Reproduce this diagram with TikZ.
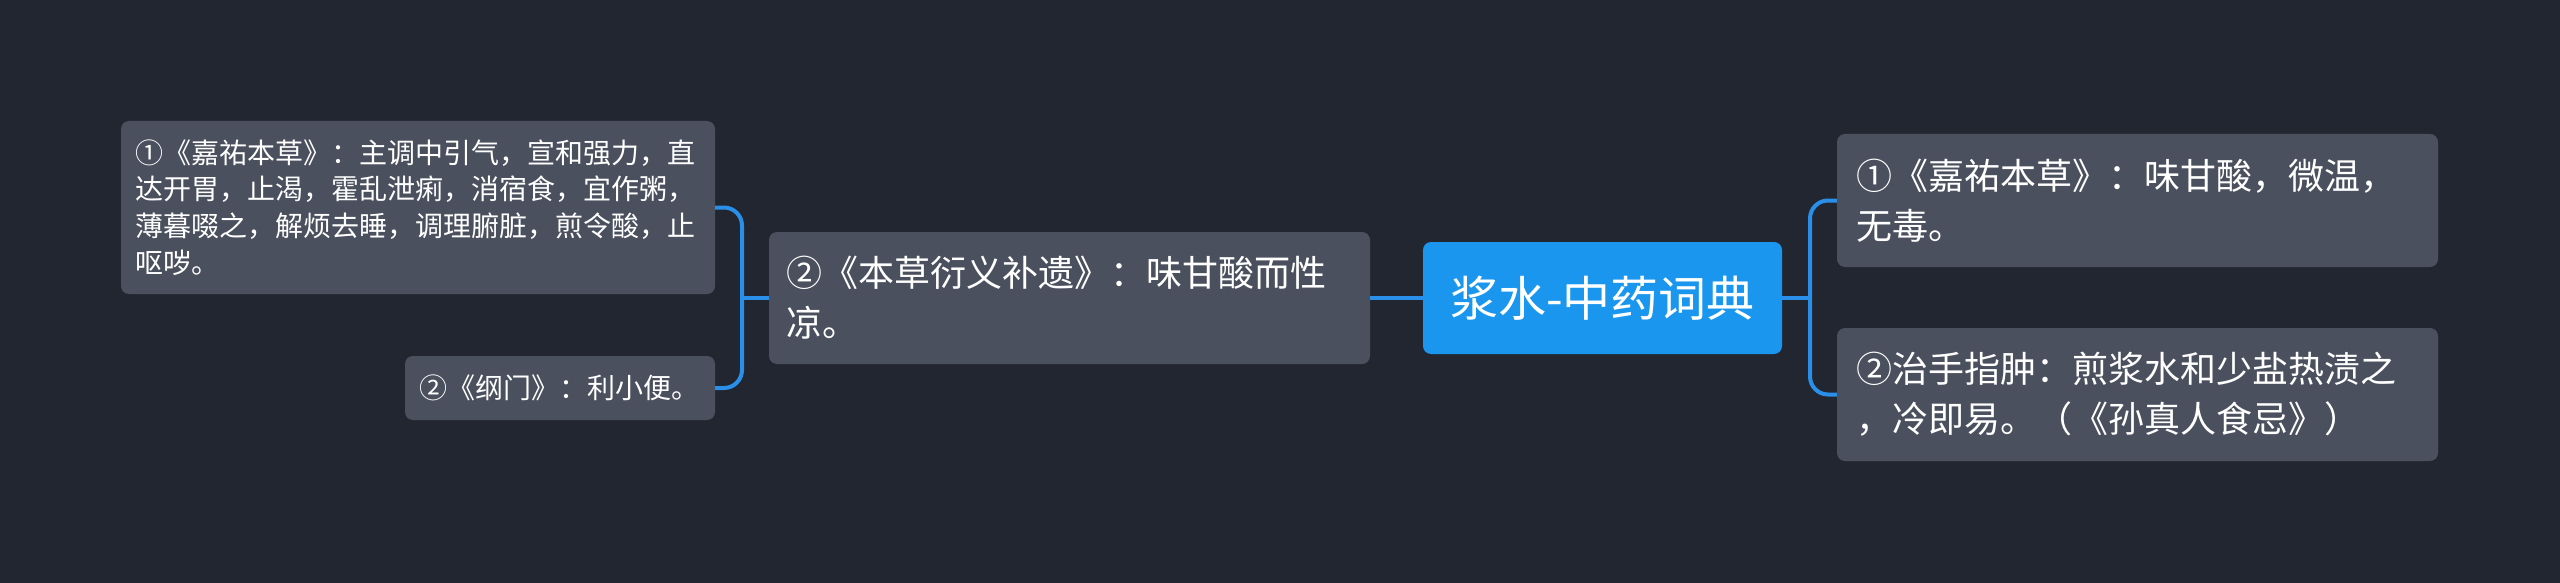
\documentclass[tikz,border=0pt]{standalone}
\usepackage{fontspec}
\setmainfont{Noto Sans CJK SC}
\definecolor{bg}{HTML}{222631}
\definecolor{boxfill}{HTML}{4B505E}
\definecolor{rootfill}{HTML}{1A96EF}
\definecolor{linec}{HTML}{2A8FE8}
\begin{document}
\begin{tikzpicture}[x=1pt,y=-1pt,
  leaf/.style={fill=boxfill, rounded corners=8pt, text=white, inner sep=0pt, align=left,
    font=\fontsize{28}{36.7}\selectfont},
  mid/.style={fill=boxfill, rounded corners=8pt, text=white, inner sep=0pt, align=left,
    font=\fontsize{36}{50}\selectfont},
  rootbox/.style={fill=rootfill, rounded corners=8pt, text=white, inner sep=0pt, align=center,
    font=\fontsize{48}{56}\selectfont},
  conn/.style={draw=linec, line width=4pt, rounded corners=18pt}]
\fill[bg] (0,0) rectangle (2560,583);
\useasboundingbox (0,0) rectangle (2560,583);

\node[rootbox, minimum width=359pt, minimum height=112pt] (root) at (1602.5,298) {浆水-中药词典};

\node[mid, minimum width=601pt, minimum height=132pt, text width=567pt] (C) at (1069.5,298)
  {②《本草衍义补遗》：味甘酸而性\\凉。};

\node[leaf, minimum width=594pt, minimum height=173pt, text width=566pt] (A) at (418,207.5)
  {①《嘉祐本草》：主调中引气，宣和强力，直\\达开胃，止渴，霍乱泄痢，消宿食，宜作粥，\\薄暮啜之，解烦去睡，调理腑脏，煎令酸，止\\呕哕。};

\node[leaf, minimum width=310pt, minimum height=64pt, text width=282pt] (B) at (560,388)
  {②《纲门》：利小便。};

\node[mid, minimum width=601pt, minimum height=133pt, text width=563pt] (D) at (2137.5,200.5)
  {①《嘉祐本草》：味甘酸，微温，\\无毒。};

\node[mid, minimum width=601pt, minimum height=133pt, text width=563pt] (E) at (2137.5,394.5)
  {②治手指肿：煎浆水和少盐热渍之\\，冷即易。（《孙真人食忌》）};

\coordinate (jL) at (742,298);
\coordinate (jR) at (1810,298);

\draw[conn] (root.west) -- (C.east);
\draw[conn] (C.west) -- (jL);
\draw[conn] (jL) |- (A.east);
\draw[conn] (jL) |- (B.east);
\draw[conn] (root.east) -- (jR);
\draw[conn] (jR) |- (D.west);
\draw[conn] (jR) |- (E.west);
\end{tikzpicture}
\end{document}
